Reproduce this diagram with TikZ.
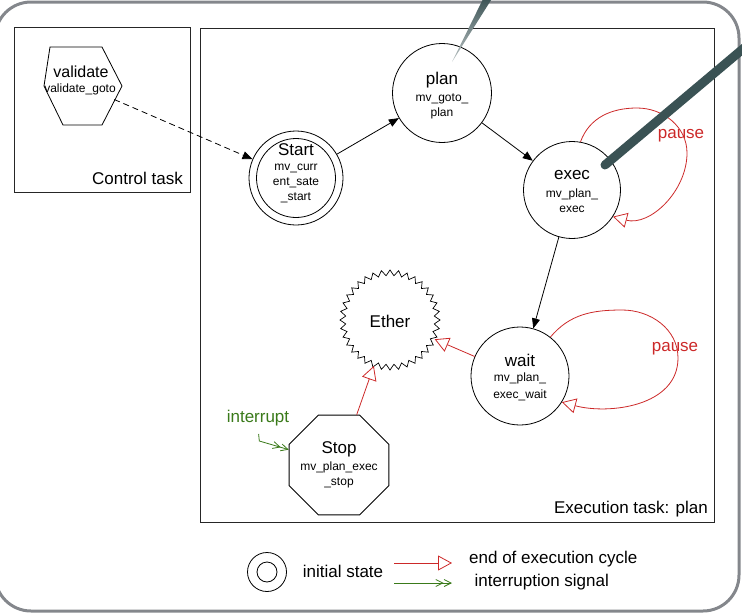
\documentclass[tikz,border=0pt]{standalone}
\usepackage{fontspec}
\setmainfont{Liberation Sans}
\usetikzlibrary{arrows.meta,shapes.geometric,calc}

\definecolor{loopred}{RGB}{204,41,41}
\definecolor{sigGreen}{RGB}{58,122,26}
\definecolor{framegray}{RGB}{132,135,140}
\definecolor{penslate}{RGB}{58,82,84}

\begin{document}
\begin{tikzpicture}[x=1pt,y=-1pt,
  every node/.style={inner sep=0pt},
  big/.style={font=\fontsize{17}{20}\selectfont},
  small/.style={font=\fontsize{12}{15}\selectfont, align=center},
  state/.style={circle, draw, line width=0.8pt, minimum size=#1},
  flow/.style={-{Triangle[length=10pt,width=8pt]}, line width=0.8pt},
  endcycle/.style={draw=loopred, line width=0.8pt, -{Triangle[open,length=14pt,width=15pt]}},
  signal/.style={draw=sigGreen, line width=0.8pt,
    -{Straight Barb[length=7pt,width=7pt] Straight Barb[length=7pt,width=7pt]}},
  boxline/.style={draw=black!85, line width=0.8pt}]

\useasboundingbox (0,0) rectangle (742,613);

% outer frame
\draw[framegray, line width=3pt, rounded corners=36pt] (-5,2) rectangle (739,611);

% task boxes
\draw[boxline] (14,27) rectangle (190,192);
\draw[boxline] (200,28) rectangle (714,522);
\node[big, anchor=east] (ctl) at (183,178) {Control task};
\node[big, anchor=east] (exl) at (708,509.5) {Execution task: plan};

% validate (control task)
\coordinate (validate) at (83,86);
\draw[line width=0.8pt] (50,47) -- (102,47) -- (122,86) -- (102,125) -- (63,125) -- (44,86) -- cycle;
\node[font=\fontsize{16}{19}\selectfont] (validatet) at (81,72) {validate};
\node[small] (validates) at (80,89) {validate\_goto};

% states
\node[state=94pt] (start) at (296,178) {};
\node[state=79pt] (startin) at (296,178) {};
\node[big] (startt) at (296,150) {Start};
\node[small] (starts) at (296,183) {mv\_curr\\ent\_sate\\\_start};

\node[state=99pt] (plan) at (442,93) {};
\node[big] (plant) at (442,80) {plan};
\node[small] (plans) at (442,106.5) {mv\_goto\_\\plan};

\node[state=97pt] (exec) at (572,190) {};
\node[big] (exect) at (572,175) {exec};
\node[small] (execs) at (572,200.5) {mv\_plan\_\\exec};

\node[state=98pt] (wait) at (520,376) {};
\node[big] (waitt) at (520,360) {wait};
\node[font=\fontsize{12}{17.5}\selectfont, align=center] (waits) at (520,387) {mv\_plan\_\\exec\_wait};

\node[regular polygon, regular polygon sides=8, draw, line width=0.8pt, minimum size=108pt] (stop) at (339,465) {};
\node[big] (stopt) at (339,449) {Stop};
\node[small] (stops) at (339,475) {mv\_plan\_exec\\\_stop};

% ether: zigzag outline round an invisible circle
\node[circle, minimum size=97pt] (ether) at (390,320) {};
\draw[line width=0.7pt, shift={(ether.center)}]
  plot[domain=0:360, samples=73] (\x:{47.25+2.75*cos(36*\x)}) -- cycle;
\node[big] (ethert) at (390,321) {Ether};

% transitions
\draw[flow, dashed, dash pattern=on 6pt off 4pt, shorten <=34pt] (validate) -- (start);
\draw[flow] (start) -- (plan);
\draw[flow] (plan) -- (exec);
\draw[flow] (exec) -- (wait);
\draw[endcycle] (wait) -- (ether);
\draw[endcycle] (stop) -- (ether);

% pause loops
\draw[endcycle] (exec.80) to[out=70,in=180] (637,108) to[out=0,in=90] (687,153)
  to[out=-90,in=-15] (exec.-33);
\node[big, text=loopred] (pause1) at (681,136) {pause};
\draw[endcycle] (wait.52) to[out=50,in=180] (622,310) to[out=0,in=90] (678,358)
  to[out=-90,in=-15] (wait.-32);
\node[big, text=loopred] (pause2) at (675,349) {pause};

% interrupt signal
\node[big, text=sigGreen] (interrupt) at (258,418) {interrupt};
\coordinate (intsrc) at (258.6,434);
\draw[signal] (intsrc) -- ++(0.7,7) -- (stop.163);

% legend
\node[state=39pt] (lgouter) at (267,572) {};
\node[state=20pt] (lginner) at (267,572) {};
\node[big] (lginit) at (343,571) {initial state};
\coordinate (lgRa) at (394,563);
\coordinate (lgRb) at (452,563);
\draw[endcycle] (lgRa) -- (lgRb);
\coordinate (lgGa) at (394,583);
\coordinate (lgGb) at (452,583);
\draw[signal] (lgGa) -- (lgGb);
\node[big, anchor=west] (lgend) at (469,559.5) {end of execution cycle};
\node[big, anchor=west] (lgint) at (474.5,582.5) {interruption signal};

% pen strokes on top
\shade[top color=penslate, bottom color=penslate!35] (484,-3) -- (493,-3) -- (452,62) -- cycle;
\draw[penslate, line width=9pt, line cap=round] (605,165) -- (769,27);
\end{tikzpicture}
\end{document}
